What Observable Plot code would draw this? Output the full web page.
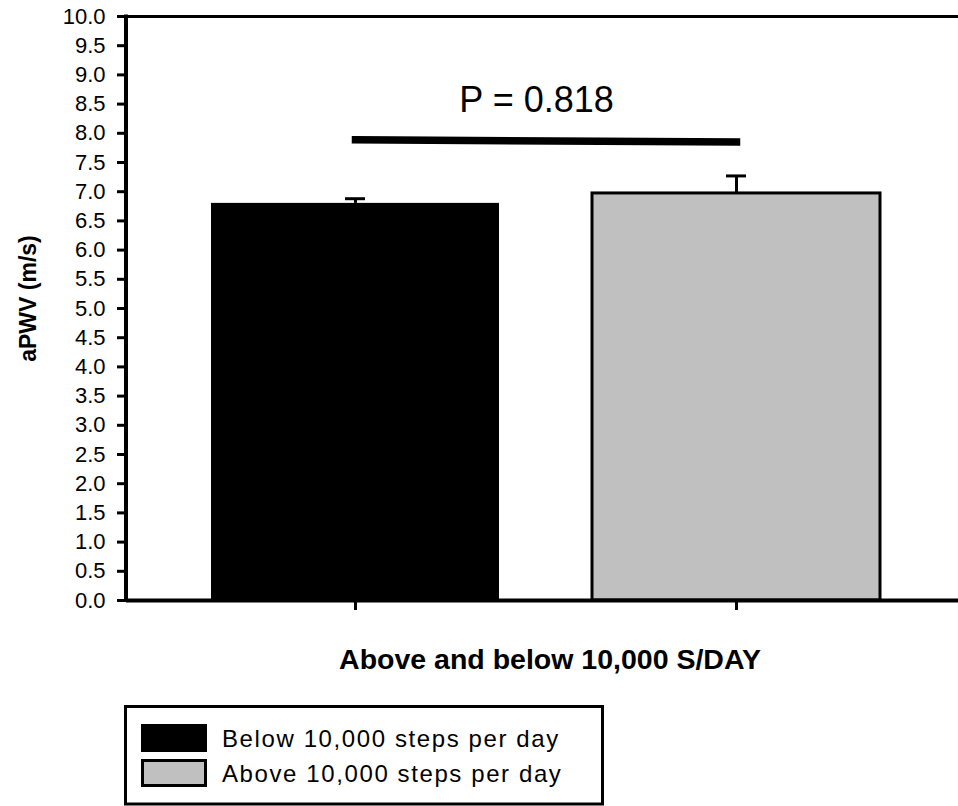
<!DOCTYPE html>
<html>
<head>
<meta charset="utf-8">
<script src="https://cdn.jsdelivr.net/npm/d3@7"></script>
<script src="https://cdn.jsdelivr.net/npm/@observablehq/plot@0.6"></script>
<style>
  html, body { margin: 0; padding: 0; background: #fff; }
  #chart svg { display: block; }
  #legend svg { display: block; }
</style>
</head>
<body>
<div id="chart"></div>
<div id="legend"></div>
<script>
// ---- data ----
const groups = ["Below 10,000 steps per day", "Above 10,000 steps per day"];
const means = [6.80, 6.97];
const sems = [0.08, 0.30];
const yTicks = [0.0, 0.5, 1.0, 1.5, 2.0, 2.5, 3.0, 3.5, 4.0, 4.5, 5.0, 5.5, 6.0, 6.5, 7.0, 7.5, 8.0, 8.5, 9.0, 9.5, 10.0];
const sigLineY = [7.89, 7.85];
const pLabel = "P = 0.818";
const xTitle = "Above and below 10,000 S/DAY";
const yTitle = "aPWV (m/s)";

const palette = ["#000000", "#c0c0c0"];

const data = groups.map((g, i) => ({group: g, mean: means[i], sem: sems[i]}));
const sig = groups.map((g, i) => ({group: g, y: sigLineY[i]}));

const font = "'Liberation Sans', Arial, sans-serif";

const chart = Plot.plot({
  width: 958,
  height: 690,
  marginLeft: 126,
  marginRight: 0,
  marginTop: 16,
  marginBottom: 90,
  style: {fontFamily: font, background: "white", color: "black", overflow: "visible"},
  x: {domain: groups, range: [210, 881], paddingInner: 0.243, paddingOuter: 0, axis: null},
  y: {domain: [0, 10], axis: null},
  color: {domain: groups, range: palette},
  marks: [
    Plot.barY(data, {x: "group", y: "mean", fill: "group"}),
    Plot.barY(data.filter(d => d.group === groups[1]), {x: "group", y: "mean", fill: "none", stroke: "black", strokeWidth: 3}),
    Plot.ruleX(data, {x: "group", y1: "mean", y2: d => d.mean + d.sem, strokeWidth: 3}),
    Plot.tickY(data, {x: "group", y: d => d.mean + d.sem, strokeWidth: 3, insetLeft: 134, insetRight: 134}),
    Plot.ruleY([10], {strokeWidth: 3}),
    Plot.ruleY([0], {strokeWidth: 4}),
    Plot.axisY(yTicks, {tickSize: 9, tickPadding: 12, strokeWidth: 3, fontSize: 22, tickFormat: d3.format(".1f"), label: null, fill: "black"}),
    Plot.axisX({tickSize: 10, strokeWidth: 3, tickFormat: () => "", label: null}),
    Plot.line(sig, {x: "group", y: "y", strokeWidth: 7.5, strokeLinecap: "square"}),
    Plot.text([pLabel], {frameAnchor: "top", dx: -6, dy: 95, lineAnchor: "bottom", fontSize: 36, fill: "black"}),
    Plot.text([xTitle], {frameAnchor: "bottom", dx: 7.5, dy: 68, lineAnchor: "bottom", fontSize: 28.5, fontWeight: "bold", fill: "black"}),
    Plot.text([yTitle], {frameAnchor: "left", textAnchor: "middle", rotate: -90, dx: -91, dy: -10, lineAnchor: "bottom", fontSize: 23, fontWeight: "bold", fill: "black"})
  ]
});

// left axis line through the library's y scale
const ys = chart.scale("y");
d3.select(chart).append("line")
  .attr("x1", 126).attr("x2", 126)
  .attr("y1", ys.apply(0) + 2).attr("y2", ys.apply(10) - 1.5)
  .attr("stroke", "black").attr("stroke-width", 4);

document.getElementById("chart").appendChild(chart);

// ---- legend ----
const lg = d3.select("#legend").append("svg")
  .attr("width", 958).attr("height", 116)
  .style("font-family", font);
lg.append("rect")
  .attr("x", 125.5).attr("y", 16.5).attr("width", 477).attr("height", 97.5)
  .attr("fill", "white").attr("stroke", "black").attr("stroke-width", 3);
groups.forEach((g, i) => {
  const top = 34 + i * 35;
  if (i === 0) {
    lg.append("rect").attr("x", 141).attr("y", top).attr("width", 66).attr("height", 28).attr("fill", palette[i]);
  } else {
    lg.append("rect").attr("x", 142.5).attr("y", top + 1.5).attr("width", 63).attr("height", 25)
      .attr("fill", palette[i]).attr("stroke", "black").attr("stroke-width", 3);
  }
  lg.append("text").attr("x", 222).attr("y", 57 + i * 35)
    .attr("font-size", 24).attr("letter-spacing", 1.6).attr("fill", "black").text(g);
});
</script>
</body>
</html>
